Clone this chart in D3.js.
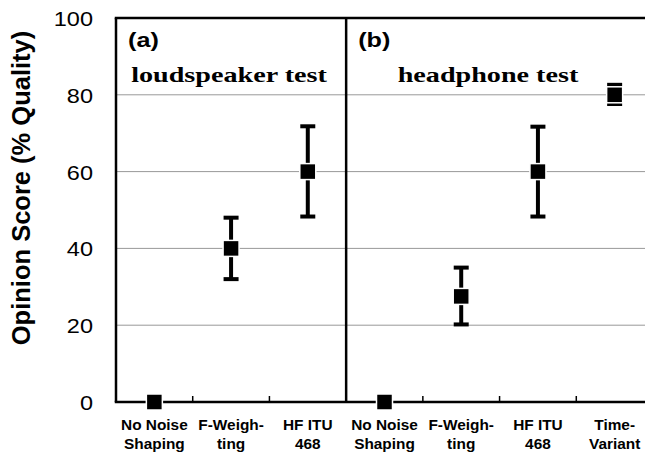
<!DOCTYPE html>
<html>
<head>
<meta charset="utf-8">
<script src="https://cdn.jsdelivr.net/npm/d3@7"></script>
<style>
  body { margin: 0; background: #fff; }
  svg { display: block; }
</style>
</head>
<body>
<svg width="645" height="452"></svg>
<script>
// two-panel opinion score chart with error bars

// panel (a): loudspeaker test
var catsA  = ["No Noise|Shaping", "F-Weigh-|ting", "HF ITU|468"];
var scoreA = [0, 40, 60];
var lowA   = [null, 32, 48.3];
var highA  = [null, 48, 71.8];

// panel (b): headphone test
var catsB  = ["No Noise|Shaping", "F-Weigh-|ting", "HF ITU|468", "Time-|Variant"];
var scoreB = [0, 27.5, 60, 80];
var lowB   = [null, 20.2, 48.3, 77.6];
var highB  = [null, 35, 71.7, 82.6];

var yTicks = [0, 20, 40, 60, 80, 100];
var gridTicks = [20, 40, 60, 80];

var svg = d3.select("svg"),
    W = +svg.attr("width");

var plotLeft = 116, plotTop = 18, plotBottom = 402, plotRight = 653;

// build rows for the point layer
var rows = [];
catsA.forEach(function(c, i) {
    rows.push({ key: "a" + i, label: c, v: scoreA[i], lo: lowA[i], hi: highA[i] });
});
catsB.forEach(function(c, i) {
    rows.push({ key: "b" + i, label: c, v: scoreB[i], lo: lowB[i], hi: highB[i] });
});

var xScale = d3.scaleBand()
               .domain(rows.map(function(d) { return d.key; }))
               .range([plotLeft, plotRight])
               .padding(0);
var yScale = d3.scaleLinear()
               .domain([0, 100])
               .range([plotBottom, plotTop]);

var bw = xScale.bandwidth();
var cx = function(d) { return xScale(d.key) + bw / 2; };

// gridlines
svg.append("g").selectAll("line").data(gridTicks).enter().append("line")
   .attr("x1", plotLeft).attr("x2", W)
   .attr("y1", function(d) { return yScale(d); })
   .attr("y2", function(d) { return yScale(d); })
   .attr("stroke", "#999").attr("stroke-width", 1);

// frame: top, left, divider
var frame = svg.append("g").attr("stroke", "#000").attr("stroke-width", 2.5);
frame.append("line").attr("x1", plotLeft - 1.25).attr("x2", W).attr("y1", yScale(100)).attr("y2", yScale(100));
frame.append("line").attr("x1", plotLeft).attr("x2", plotLeft).attr("y1", yScale(100)).attr("y2", yScale(0));
var divX = xScale("b0");
frame.append("line").attr("x1", divX).attr("x2", divX).attr("y1", yScale(100)).attr("y2", yScale(0));

// x axis: ticks at category boundaries, pointing up
var xg = svg.append("g")
   .attr("transform", "translate(0," + plotBottom + ")");
xg.append("line").attr("x1", plotLeft - 1.25).attr("x2", W).attr("y1", 0).attr("y2", 0)
  .attr("stroke", "#000").attr("stroke-width", 2.5);
xg.selectAll(".edge").data(rows.slice(1)).enter().append("line")
  .attr("class", "edge")
  .attr("x1", function(d) { return xScale(d.key); })
  .attr("x2", function(d) { return xScale(d.key); })
  .attr("y1", 0).attr("y2", -6)
  .attr("stroke", "#000").attr("stroke-width", 1.5);

// x labels (two lines each)
var xl = svg.append("g").selectAll("g").data(rows).enter().append("g")
   .attr("transform", function(d) { return "translate(" + cx(d) + ",0) scale(1.1,1)"; });
xl.each(function(d) {
    var parts = d.label.split("|");
    var t = d3.select(this).append("text")
        .attr("text-anchor", "middle")
        .attr("font-family", "Liberation Sans, Arial, sans-serif")
        .attr("font-weight", "bold")
        .attr("font-size", 14);
    t.append("tspan").attr("x", 0).attr("y", 430).text(parts[0]);
    t.append("tspan").attr("x", 0).attr("y", 449).text(parts[1]);
});

// y axis labels
var yAxis = d3.axisLeft(yScale).tickValues(yTicks).tickSize(0).tickPadding(0);
var yg = svg.append("g").attr("transform", "translate(93,0)").call(yAxis);
yg.select(".domain").remove();
yg.selectAll("text")
  .attr("font-family", "Liberation Sans, Arial, sans-serif")
  .attr("font-size", 21)
  .attr("fill", "#000")
  .attr("x", 0)
  .attr("dy", "0.36em")
  .attr("transform", "scale(1.12,1)");

// y title
svg.append("text")
   .attr("transform", "translate(30,188) rotate(-90)")
   .attr("text-anchor", "middle")
   .attr("font-family", "Liberation Sans, Arial, sans-serif")
   .attr("font-weight", "bold")
   .attr("font-size", 25.5)
   .text("Opinion Score (% Quality)");

// panel labels
var panelTags = [
    { tag: "(a)", title: "loudspeaker test", tx: 229 },
    { tag: "(b)", title: "headphone test", tx: 488 }
];
var tagX = [plotLeft, divX];
panelTags.forEach(function(p, i) {
    svg.append("text")
       .attr("transform", "translate(" + (tagX[i] + 12) + ",47) scale(1.2,1)")
       .attr("font-family", "Liberation Sans, Arial, sans-serif")
       .attr("font-weight", "bold")
       .attr("font-size", 21)
       .text(p.tag);
    svg.append("text")
       .attr("transform", "translate(" + p.tx + ",82) scale(1.28,1)")
       .attr("text-anchor", "middle")
       .attr("font-family", "Liberation Serif, Times New Roman, serif")
       .attr("font-weight", "bold")
       .attr("font-size", 22)
       .text(p.title);
});

// error bars
var eb = rows.filter(function(d) { return d.lo !== null; });
var ebg = svg.append("g").attr("stroke", "#000").attr("stroke-width", 4);
ebg.selectAll(".stem").data(eb).enter().append("line")
   .attr("x1", cx).attr("x2", cx)
   .attr("y1", function(d) { return yScale(d.hi); })
   .attr("y2", function(d) { return yScale(d.lo); });
ebg.selectAll(".capH").data(eb).enter().append("line")
   .attr("x1", function(d) { return cx(d) - 7.5; })
   .attr("x2", function(d) { return cx(d) + 7.5; })
   .attr("y1", function(d) { return yScale(d.hi); })
   .attr("y2", function(d) { return yScale(d.hi); });
ebg.selectAll(".capL").data(eb).enter().append("line")
   .attr("x1", function(d) { return cx(d) - 7.5; })
   .attr("x2", function(d) { return cx(d) + 7.5; })
   .attr("y1", function(d) { return yScale(d.lo); })
   .attr("y2", function(d) { return yScale(d.lo); });

// markers
svg.append("g").selectAll("rect").data(rows).enter().append("rect")
   .attr("x", function(d) { return cx(d) - 8; })
   .attr("y", function(d) { return yScale(d.v) - 8; })
   .attr("width", 16).attr("height", 16)
   .attr("fill", "#000")
   .attr("stroke", "#fff").attr("stroke-width", 1.5);
</script>
</body>
</html>
